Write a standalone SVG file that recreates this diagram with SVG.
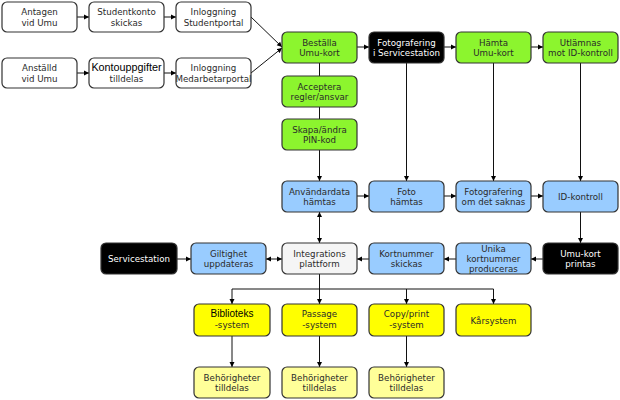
<svg xmlns="http://www.w3.org/2000/svg" width="620" height="400" viewBox="0 0 620 400">
<style>
.b{stroke:#333;stroke-width:1.2}
.w{fill:#fff}.g{fill:#8CF52E}.k{fill:#000}.bl{fill:#99CCFF}.y{fill:#FFFF00}.ly{fill:#FFFF99}.gr{fill:#F5F5F5}
text{font-family:"DejaVu Sans",Verdana,sans-serif;font-size:8.7px;fill:#2a2a2a;text-anchor:middle}
text.wt{fill:#fff}
text.ar{font-family:"Liberation Sans",Arial,sans-serif;font-size:10px;fill:#000}
.c path{fill:none;stroke:#111;stroke-width:1}
</style>
<defs>
<marker id="ah" markerWidth="6" markerHeight="6" refX="5" refY="3" orient="auto" markerUnits="userSpaceOnUse"><path d="M0,0.5 L5,3 L0,5.5 Z" fill="#000"/></marker>
<marker id="as" markerWidth="6" markerHeight="6" refX="0" refY="3" orient="auto" markerUnits="userSpaceOnUse"><path d="M5,0.5 L0,3 L5,5.5 Z" fill="#000"/></marker>
</defs>
<g class="c">
<path d="M77,17 H89" marker-end="url(#ah)"/>
<path d="M164,17 H176" marker-end="url(#ah)"/>
<path d="M77,73 H89" marker-end="url(#ah)"/>
<path d="M164,73 H176" marker-end="url(#ah)"/>
<path d="M251,17 L282,47" marker-end="url(#ah)"/>
<path d="M251,73 L282,48" marker-end="url(#ah)"/>
<path d="M357,47 H369" marker-end="url(#ah)"/>
<path d="M444,47 H456" marker-end="url(#ah)"/>
<path d="M531,47 H543" marker-end="url(#ah)"/>
<path d="M319.5,63 V76"/>
<path d="M319.5,107 V119"/>
<path d="M319.5,150 V181" marker-end="url(#ah)"/>
<path d="M406.5,63 V181" marker-end="url(#ah)"/>
<path d="M493.5,63 V181" marker-end="url(#ah)"/>
<path d="M580.5,63 V181" marker-end="url(#ah)"/>
<path d="M357,196 H369" marker-end="url(#ah)"/>
<path d="M444,196 H456" marker-end="url(#ah)"/>
<path d="M531,196 H543" marker-end="url(#ah)"/>
<path d="M580.5,212 V243" marker-end="url(#ah)"/>
<path d="M543,259 H531" marker-end="url(#ah)"/>
<path d="M456,259 H444" marker-end="url(#ah)"/>
<path d="M369,259 H357" marker-end="url(#ah)"/>
<path d="M319.5,212 V243" marker-start="url(#as)" marker-end="url(#ah)"/>
<path d="M266,259 H282" marker-start="url(#as)" marker-end="url(#ah)"/>
<path d="M177,259 H191" marker-end="url(#ah)"/>
<path d="M319.5,274 V289"/>
<path d="M232,304 V289 H493.5 V304" marker-start="url(#as)" marker-end="url(#ah)"/>
<path d="M319.5,289 V304" marker-end="url(#ah)"/>
<path d="M406.5,289 V304" marker-end="url(#ah)"/>
<path d="M232,336 V367" marker-end="url(#ah)"/>
<path d="M319.5,336 V367" marker-end="url(#ah)"/>
<path d="M406.5,336 V367" marker-end="url(#ah)"/>
</g>
<g id="antagen"><rect class="b w" x="2" y="2" width="75" height="30" rx="5"/><text x="39.5" y="15">Antagen</text><text x="39.5" y="25.5">vid Umu</text></g>
<g id="studentkonto"><rect class="b w" x="89" y="2" width="75" height="30" rx="5"/><text x="126.5" y="15">Studentkonto</text><text x="126.5" y="25.5">skickas</text></g>
<g id="inlogg-student"><rect class="b w" x="176" y="2" width="75" height="30" rx="5"/><text x="213.5" y="15">Inloggning</text><text x="213.5" y="25.5">Studentportal</text></g>
<g id="anstalld"><rect class="b w" x="2" y="58" width="75" height="30" rx="5"/><text x="39.5" y="71">Anställd</text><text x="39.5" y="81.5">vid Umu</text></g>
<g id="kontouppgifter"><rect class="b w" x="89" y="58" width="75" height="30" rx="5"/><text class="ar" x="126.5" y="71" style="font-size:10.8px">Kontouppgifter</text><text x="126.5" y="81.5">tilldelas</text></g>
<g id="inlogg-medarbetare"><rect class="b w" x="176" y="58" width="75" height="30" rx="5"/><text x="213.5" y="71">Inloggning</text><text x="213.5" y="81.5">Medarbetarportal</text></g>
<g id="bestalla"><rect class="b g" x="282" y="32" width="75" height="31" rx="5"/><text x="319.5" y="45.5">Beställa</text><text x="319.5" y="56">Umu-kort</text></g>
<g id="fotografering-sc"><rect class="b k" x="369" y="32" width="75" height="31" rx="5"/><text class="wt" x="406.5" y="45.5">Fotografering</text><text class="wt" x="406.5" y="56">i Servicestation</text></g>
<g id="hamta"><rect class="b g" x="456" y="32" width="75" height="31" rx="5"/><text x="493.5" y="45.5">Hämta</text><text x="493.5" y="56">Umu-kort</text></g>
<g id="utlamnas"><rect class="b g" x="543" y="32" width="75" height="31" rx="5"/><text x="580.5" y="45.5">Utlämnas</text><text x="580.5" y="56">mot ID-kontroll</text></g>
<g id="acceptera"><rect class="b g" x="282" y="76" width="75" height="31" rx="5"/><text x="319.5" y="89.5">Acceptera</text><text x="319.5" y="100">regler/ansvar</text></g>
<g id="skapa"><rect class="b g" x="282" y="119" width="75" height="31" rx="5"/><text x="319.5" y="132.5">Skapa/ändra</text><text x="319.5" y="143">PIN-kod</text></g>
<g id="anvandardata"><rect class="b bl" x="282" y="181" width="75" height="31" rx="5"/><text x="319.5" y="194.5">Användardata</text><text x="319.5" y="205">hämtas</text></g>
<g id="foto"><rect class="b bl" x="369" y="181" width="75" height="31" rx="5"/><text x="406.5" y="194.5">Foto</text><text x="406.5" y="205">hämtas</text></g>
<g id="fotografering-saknas"><rect class="b bl" x="456" y="181" width="75" height="31" rx="5"/><text x="493.5" y="194.5">Fotografering</text><text x="493.5" y="205">om det saknas</text></g>
<g id="id-kontroll"><rect class="b bl" x="543" y="181" width="75" height="31" rx="5"/><text x="580.5" y="200">ID-kontroll</text></g>
<g id="servicestation"><rect class="b k" x="101" y="243" width="76" height="31" rx="5"/><text class="wt" x="139" y="262">Servicestation</text></g>
<g id="giltighet"><rect class="b bl" x="191" y="243" width="75" height="31" rx="5"/><text x="228.5" y="256.5">Giltighet</text><text x="228.5" y="267">uppdateras</text></g>
<g id="integrations"><rect class="b gr" x="282" y="243" width="75" height="31" rx="5"/><text x="319.5" y="256.5">Integrations</text><text x="319.5" y="267">plattform</text></g>
<g id="kortnummer"><rect class="b bl" x="369" y="243" width="75" height="31" rx="5"/><text x="406.5" y="256.5">Kortnummer</text><text x="406.5" y="267">skickas</text></g>
<g id="unika"><rect class="b bl" x="456" y="243" width="75" height="31" rx="5"/><text x="493.5" y="252">Unika</text><text x="493.5" y="262">kortnummer</text><text x="493.5" y="271.5">produceras</text></g>
<g id="umu-kort-printas"><rect class="b k" x="543" y="243" width="75" height="31" rx="5"/><text class="wt" x="580.5" y="256.5">Umu-kort</text><text class="wt" x="580.5" y="267">printas</text></g>
<g id="biblioteks"><rect class="b y" x="194" y="304" width="76" height="32" rx="5"/><text class="ar" x="232" y="317">Biblioteks</text><text x="232" y="328">-system</text></g>
<g id="passage"><rect class="b y" x="282" y="304" width="75" height="32" rx="5"/><text x="319.5" y="317">Passage</text><text x="319.5" y="328">-system</text></g>
<g id="copyprint"><rect class="b y" x="369" y="304" width="75" height="32" rx="5"/><text x="406.5" y="317">Copy/print</text><text x="406.5" y="328">-system</text></g>
<g id="karsystem"><rect class="b y" x="456" y="304" width="75" height="32" rx="5"/><text x="493.5" y="323.5">Kårsystem</text></g>
<g id="behorigheter1"><rect class="b ly" x="194" y="367" width="76" height="31" rx="5"/><text x="232" y="380.5">Behörigheter</text><text x="232" y="391">tilldelas</text></g>
<g id="behorigheter2"><rect class="b ly" x="282" y="367" width="75" height="31" rx="5"/><text x="319.5" y="380.5">Behörigheter</text><text x="319.5" y="391">tilldelas</text></g>
<g id="behorigheter3"><rect class="b ly" x="369" y="367" width="75" height="31" rx="5"/><text x="406.5" y="380.5">Behörigheter</text><text x="406.5" y="391">tilldelas</text></g>
</svg>
